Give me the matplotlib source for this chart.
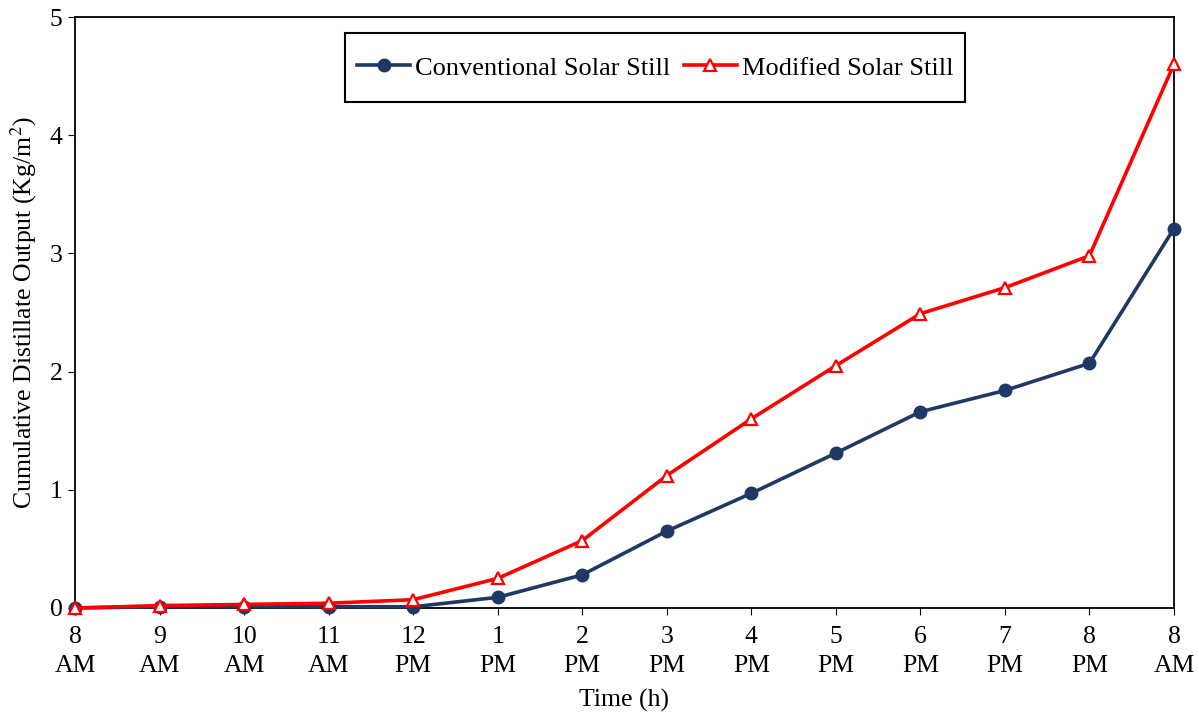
import numpy as np
import matplotlib.pyplot as plt
from matplotlib.patches import Rectangle

plt.rcParams['font.family'] = ['Liberation Serif', 'DejaVu Serif']
plt.rcParams['mathtext.fontset'] = 'stix'

# time labels
times = ['8\nAM', '9\nAM', '10\nAM', '11\nAM', '12\nPM', '1\nPM', '2\nPM',
         '3\nPM', '4\nPM', '5\nPM', '6\nPM', '7\nPM', '8\nPM', '8\nAM']

# cumulative output (Kg/m2)
conventional = [0.0, 0.01, 0.01, 0.01, 0.01, 0.09, 0.28, 0.65, 0.97, 1.31, 1.66, 1.84, 2.07, 3.21]
modified = [0.0, 0.02, 0.03, 0.04, 0.07, 0.25, 0.57, 1.12, 1.60, 2.05, 2.49, 2.71, 2.98, 4.60]

fig = plt.figure(figsize=(11.99, 7.15), dpi=100)
ax = fig.add_axes([0.0626, 0.1497, 0.9165, 0.8265])

x = np.arange(len(times))
ax.plot(x, conventional, color='#1F3864', linewidth=2.6, marker='o', markersize=9,
        label='Conventional Solar Still', zorder=3, clip_on=False)
ax.plot(x, modified, color='#FF0000', linewidth=2.6, marker='^', markersize=9,
        markerfacecolor='white', markeredgecolor='#FF0000', markeredgewidth=1.6,
        label='Modified Solar Still', zorder=4, clip_on=False)

ax.set_xlim(0, len(times) - 1)
ax.set_ylim(0, 5)
ax.set_xticks(x)
ax.set_xticklabels(times, fontsize=18.5, linespacing=1.4)
ax.set_yticks(range(6))
ax.tick_params(axis='y', labelsize=18.5, direction='out', length=5, pad=4)
ax.tick_params(axis='x', direction='out', length=5, pad=8)

for s in ax.spines.values():
    s.set_linewidth(1.3)

ax.set_xlabel('Time (h)', fontsize=18.5, labelpad=9)
ax.set_ylabel('Cumulative Distillate Output (Kg/m$^2$)', fontsize=18.5, labelpad=8)

# legend without its own frame, box drawn separately
leg = ax.legend(loc='center', bbox_to_anchor=(0.528, 0.914), ncol=2, fontsize=19,
                frameon=False, borderpad=0, handlelength=2.0, columnspacing=0.5,
                handletextpad=0.2, borderaxespad=0)
ax.add_patch(Rectangle((0.2457, 0.856), 0.564, 0.117, transform=ax.transAxes,
                       fill=False, edgecolor='black', linewidth=1.5, zorder=5))

fig.savefig('out.png', dpi=100)
